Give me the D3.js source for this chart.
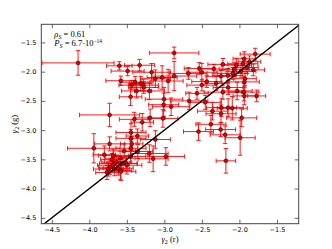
<!DOCTYPE html>
<html lang="en">
<head>
<meta charset="UTF-8">
<title>gamma2 g vs r</title>
<script src="https://d3js.org/d3.v7.min.js"></script>
<style>
  body { margin: 0; background: #fff; }
  .tick text { font-family: "DejaVu Sans", sans-serif; font-size: 6.5px; fill: #000; }
  .lab { font-family: "Liberation Serif", "DejaVu Serif", serif; font-size: 8.5px; }
</style>
</head>
<body>
<svg width="332" height="249"></svg>
<script>
// gamma_2 in r band (x) and g band (y), with errors
const gr = [-4.15, -3.60, -3.33, -3.49, -3.58, -3.39, -3.435, -3.315, -3.37, -3.45,
  -2.87, -3.17, -3.12, -3.03, -2.95, -2.87, -2.68, -2.535, -2.50, -2.34,
  -2.22, -2.245, -2.31, -2.435, -2.50, -2.565, -3.28, -3.275, -3.20, -3.005,
  -1.79, -1.935, -1.865, -2.04, -1.955, -1.90, -1.815, -2.07, -1.98, -2.155,
  -2.09, -1.925, -1.935, -2.15, -2.22, -2.03, -1.94, -1.77, -1.935, -2.36,
  -2.24, -2.245, -2.15, -2.095, -1.97, -2.38, -2.545, -2.25, -2.19, -1.99,
  -2.18, -3.01, -2.91, -2.67, -2.455, -3.19, -3.02, -3.12, -3.73, -3.40,
  -3.295, -3.445, -3.36, -3.445, -3.435, -3.73, -3.94, -3.445, -3.535, -3.355,
  -3.80, -3.68, -3.59, -3.45, -3.20, -3.15, -2.98, -3.70, -3.635, -3.665,
  -3.69, -3.725, -3.745, -3.765, -3.615, -3.585, -3.58, -3.565, -3.51, -3.50,
  -3.665];
const gg = [-1.85, -1.90, -1.89, -1.99, -2.155, -2.18, -2.23, -2.20, -2.33, -2.43,
  -1.68, -2.01, -2.12, -2.10, -2.16, -2.075, -2.03, -1.945, -2.01, -1.955,
  -1.875, -2.08, -2.20, -2.17, -2.23, -2.37, -2.23, -2.27, -2.33, -2.47,
  -1.70, -1.78, -1.83, -1.89, -1.865, -1.93, -1.97, -1.96, -1.995, -2.065,
  -2.03, -2.12, -2.175, -2.27, -2.35, -2.33, -2.35, -2.415, -2.415, -2.675,
  -2.615, -2.72, -2.615, -2.625, -2.79, -2.90, -3.025, -2.99, -3.08, -3.13,
  -3.525, -2.565, -2.60, -2.50, -2.525, -2.79, -2.80, -3.16, -2.74, -2.815,
  -2.865, -3.04, -3.10, -3.14, -3.235, -3.235, -3.31, -3.31, -3.355, -3.365,
  -3.42, -3.435, -3.48, -3.45, -3.40, -3.49, -3.45, -3.50, -3.545, -3.57,
  -3.60, -3.635, -3.665, -3.725, -3.65, -3.69, -3.71, -3.57, -3.57, -3.60,
  -3.66];
const xerr = [0.48, 0.17, 0.20, 0.22, 0.20, 0.20, 0.17, 0.15, 0.20, 0.15,
  0.33, 0.25, 0.20, 0.20, 0.20, 0.30, 0.25, 0.20, 0.20, 0.20,
  0.20, 0.20, 0.15, 0.20, 0.20, 0.15, 0.20, 0.20, 0.20, 0.25,
  0.20, 0.15, 0.15, 0.20, 0.20, 0.15, 0.15, 0.20, 0.20, 0.20,
  0.20, 0.15, 0.20, 0.20, 0.25, 0.20, 0.20, 0.12, 0.15, 0.20,
  0.20, 0.20, 0.20, 0.20, 0.20, 0.20, 0.20, 0.20, 0.20, 0.20,
  0.13, 0.20, 0.25, 0.25, 0.20, 0.20, 0.20, 0.20, 0.40, 0.20,
  0.15, 0.20, 0.15, 0.20, 0.15, 0.20, 0.35, 0.20, 0.15, 0.20,
  0.15, 0.20, 0.20, 0.20, 0.25, 0.20, 0.25, 0.15, 0.20, 0.20,
  0.20, 0.15, 0.20, 0.15, 0.20, 0.15, 0.20, 0.20, 0.15, 0.20,
  0.20];
const yerr = [0.21, 0.07, 0.10, 0.08, 0.08, 0.10, 0.08, 0.12, 0.12, 0.15,
  0.10, 0.15, 0.15, 0.20, 0.20, 0.25, 0.10, 0.10, 0.15, 0.08,
  0.10, 0.10, 0.12, 0.10, 0.10, 0.10, 0.10, 0.10, 0.15, 0.20,
  0.10, 0.12, 0.10, 0.12, 0.10, 0.10, 0.10, 0.12, 0.10, 0.12,
  0.10, 0.12, 0.10, 0.12, 0.12, 0.15, 0.15, 0.10, 0.15, 0.15,
  0.15, 0.15, 0.15, 0.20, 0.15, 0.15, 0.15, 0.12, 0.15, 0.30,
  0.21, 0.20, 0.15, 0.15, 0.12, 0.15, 0.15, 0.15, 0.20, 0.12,
  0.15, 0.15, 0.12, 0.15, 0.12, 0.12, 0.25, 0.15, 0.12, 0.12,
  0.15, 0.10, 0.12, 0.12, 0.15, 0.22, 0.15, 0.10, 0.12, 0.12,
  0.10, 0.12, 0.12, 0.12, 0.12, 0.15, 0.15, 0.10, 0.12, 0.15,
  0.12];
const ticks = [-4.5, -4.0, -3.5, -3.0, -2.5, -2.0, -1.5];
const xDomain = [-4.64, -1.21];
const yDomain = [-4.60, -1.19];

const data = gr.map((v, i) => ({ x: v, y: gg[i], xe: xerr[i], ye: yerr[i] }));

const margin = { top: 24.3, left: 41.3 };
const width = 257.4, height = 199.4;

const svg = d3.select("svg");
const g = svg.append("g")
  .attr("transform", "translate(" + margin.left + "," + margin.top + ")");

const x = d3.scaleLinear().domain(xDomain).range([0, width]);
const y = d3.scaleLinear().domain(yDomain).range([height, 0]);

g.append("clipPath").attr("id", "clip")
  .append("rect").attr("width", width).attr("height", height);

const fmt = d => d3.format(".1f")(d).replace("-", "\u2212");

// axes, ticks pointing inwards on all sides
g.append("g").attr("transform", "translate(0," + height + ")")
  .call(d3.axisBottom(x).tickValues(ticks).tickFormat(fmt).tickSizeInner(-4).tickSizeOuter(0).tickPadding(4));
g.append("g")
  .call(d3.axisLeft(y).tickValues(ticks).tickFormat(fmt).tickSizeInner(-4).tickSizeOuter(0).tickPadding(5));
g.append("g")
  .call(d3.axisTop(x).tickValues(ticks).tickFormat("").tickSizeInner(-4).tickSizeOuter(0));
g.append("g").attr("transform", "translate(" + width + ",0)")
  .call(d3.axisRight(y).tickValues(ticks).tickFormat("").tickSizeInner(-4).tickSizeOuter(0));
g.selectAll(".domain").remove();
g.selectAll(".tick line").attr("stroke", "#000").attr("stroke-width", 0.6);

const plot = g.append("g").attr("clip-path", "url(#clip)");

// error bars
const cap = 2.2;
const eb = plot.append("g").attr("stroke", "#ff0000").attr("stroke-width", 0.9);
data.forEach(d => {
  const cx = x(d.x), cy = y(d.y);
  const x0 = x(d.x - d.xe), x1 = x(d.x + d.xe);
  const y0 = y(d.y - d.ye), y1 = y(d.y + d.ye);
  eb.append("line").attr("x1", x0).attr("x2", x1).attr("y1", cy).attr("y2", cy);
  eb.append("line").attr("x1", x0).attr("x2", x0).attr("y1", cy - cap).attr("y2", cy + cap);
  eb.append("line").attr("x1", x1).attr("x2", x1).attr("y1", cy - cap).attr("y2", cy + cap);
  eb.append("line").attr("x1", cx).attr("x2", cx).attr("y1", y0).attr("y2", y1);
  eb.append("line").attr("x1", cx - cap).attr("x2", cx + cap).attr("y1", y0).attr("y2", y0);
  eb.append("line").attr("x1", cx - cap).attr("x2", cx + cap).attr("y1", y1).attr("y2", y1);
});

plot.selectAll("circle").data(data).enter().append("circle")
  .attr("cx", d => x(d.x)).attr("cy", d => y(d.y)).attr("r", 2)
  .attr("fill", "#e00000").attr("stroke", "#000").attr("stroke-width", 0.45);

// one-to-one line
plot.append("line")
  .attr("x1", x(-5)).attr("y1", y(-5)).attr("x2", x(0)).attr("y2", y(0))
  .attr("stroke", "#000").attr("stroke-width", 1.4);

// frame
g.append("rect").attr("width", width).attr("height", height)
  .attr("fill", "none").attr("stroke", "#444").attr("stroke-width", 1);

// annotation
const ann = g.append("text").attr("class", "lab").attr("x", 13).attr("y", 13);
ann.append("tspan").attr("font-style", "italic").text("\u03c1");
ann.append("tspan").attr("font-style", "italic").attr("font-size", "6px").attr("dy", 2).text("S");
ann.append("tspan").attr("dy", -2).text(" = 0.61");
const ann2 = g.append("text").attr("class", "lab").attr("x", 13).attr("y", 22);
ann2.append("tspan").attr("font-style", "italic").text("P");
ann2.append("tspan").attr("font-style", "italic").attr("font-size", "6px").attr("dy", 2).text("S");
ann2.append("tspan").attr("dy", -2).text(" = 6.7\u00b710");
ann2.append("tspan").attr("font-size", "5.5px").attr("dy", -3.5).text("\u221214");

// axis labels
const xl = svg.append("text").attr("class", "lab").attr("text-anchor", "middle")
  .attr("x", margin.left + width / 2).attr("y", 242);
xl.append("tspan").attr("font-style", "italic").text("\u03b3");
xl.append("tspan").attr("font-size", "6px").attr("dy", 2).text("2");
xl.append("tspan").attr("dy", -2).text(" (r)");

const yl = svg.append("text").attr("class", "lab").attr("text-anchor", "middle")
  .attr("transform", "translate(17," + (margin.top + height / 2) + ") rotate(-90)");
yl.append("tspan").attr("font-style", "italic").text("\u03b3");
yl.append("tspan").attr("font-size", "6px").attr("dy", 2).text("2");
yl.append("tspan").attr("dy", -2).text(" (g)");
</script>
</body>
</html>
